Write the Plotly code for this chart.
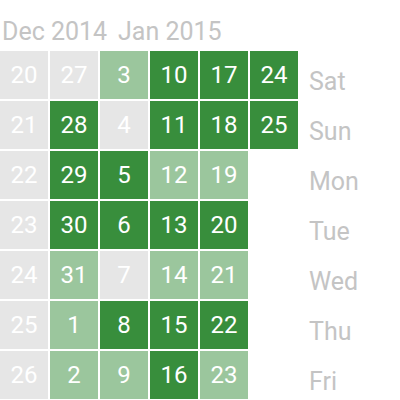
import plotly.graph_objects as go

weekdays = ["Sat", "Sun", "Mon", "Tue", "Wed", "Thu", "Fri"]
week_index = [0, 1, 2, 3, 4, 5]
month_labels = ["Dec 2014", "Jan 2015"]

# day-of-month numbers per week column (Sat..Fri)
days = [
    [20, 21, 22, 23, 24, 25, 26],
    [27, 28, 29, 30, 31, 1, 2],
    [3, 4, 5, 6, 7, 8, 9],
    [10, 11, 12, 13, 14, 15, 16],
    [17, 18, 19, 20, 21, 22, 23],
    [24, 25, None, None, None, None, None],
]
# activity level per day (0 none, 1 low, 2 high)
levels = [
    [0, 0, 0, 0, 0, 0, 0],
    [0, 2, 2, 2, 1, 1, 1],
    [1, 0, 2, 2, 0, 2, 1],
    [2, 2, 1, 2, 1, 2, 2],
    [2, 2, 1, 2, 1, 2, 1],
    [2, 2, None, None, None, None, None],
]

gray = "#e6e6e6"
light = "#9bc69d"
dark = "#388e3c"
label_color = "#c4c4c4"

z = [[levels[c][r] for c in range(len(week_index))] for r in range(len(weekdays))]
txt = [["" if days[c][r] is None else str(days[c][r]) for c in range(len(week_index))]
       for r in range(len(weekdays))]

fig = go.Figure(go.Heatmap(
    x=week_index, y=weekdays, z=z, text=txt, texttemplate="%{text}",
    textfont=dict(color="white", size=24, family="Roboto"),
    zmin=0, zmax=2,
    colorscale=[[0, gray], [1/3, gray], [1/3, light], [2/3, light], [2/3, dark], [1, dark]],
    showscale=False, xgap=2, ygap=2, hoverinfo="skip",
))

fig.update_layout(
    width=400, height=400,
    margin=dict(l=0, r=100, t=50, b=0),
    paper_bgcolor="white", plot_bgcolor="white",
    font=dict(family="Roboto", color=label_color, size=25),
    xaxis=dict(range=[-0.48, 5.52], showticklabels=False, showgrid=False,
               zeroline=False, showline=False, ticks=""),
    yaxis=dict(side="right", autorange="reversed", showgrid=False, zeroline=False,
               showline=False, ticks="", ticklabelstandoff=8, ticklabelshift=-6,
               tickfont=dict(size=25, color=label_color, family="Roboto")),
)

month_pos = [0, 116]
for lbl, px in zip(month_labels, month_pos):
    fig.add_annotation(text=lbl, xref="paper", yref="paper", x=px / 300, y=1,
                       xanchor="left", yanchor="bottom", yshift=2, showarrow=False,
                       font=dict(size=25, color=label_color, family="Roboto"))

fig.write_html("out.html")
